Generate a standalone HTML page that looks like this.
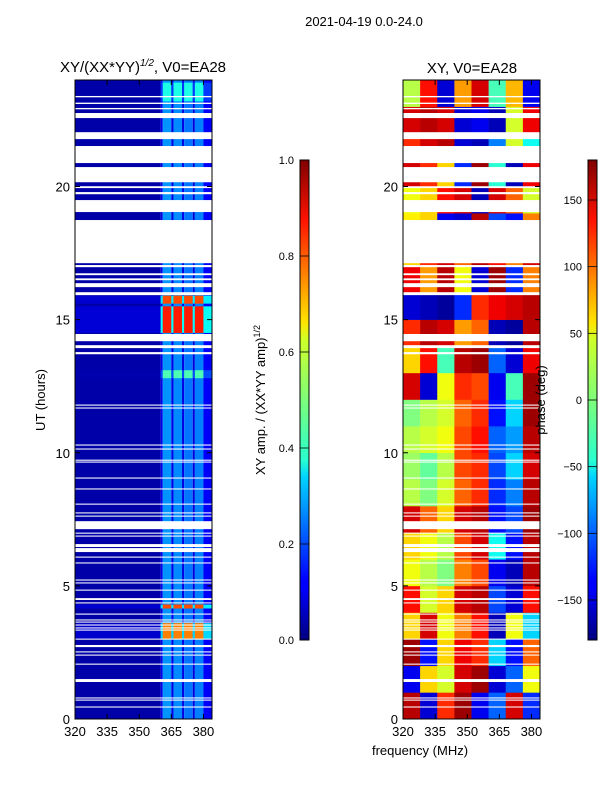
<!DOCTYPE html>
<html><head><meta charset="utf-8">
<style>
body{margin:0;background:#fff;}
svg{display:block;font-family:"Liberation Sans",sans-serif;}
</style></head>
<body>
<svg id="fig" width="600" height="800" viewBox="0 0 600 800" xmlns="http://www.w3.org/2000/svg">
<defs>
<linearGradient id="jetV" x1="0" y1="1" x2="0" y2="0">
<stop offset="0" stop-color="#00007f"/><stop offset="0.11" stop-color="#0000ff"/>
<stop offset="0.125" stop-color="#0000ff"/><stop offset="0.34" stop-color="#00d4ff"/>
<stop offset="0.375" stop-color="#29ffce"/><stop offset="0.5" stop-color="#7dff7a"/>
<stop offset="0.625" stop-color="#ceff29"/><stop offset="0.66" stop-color="#ffe600"/>
<stop offset="0.875" stop-color="#ff1300"/><stop offset="1" stop-color="#7f0000"/>
</linearGradient>
</defs>
<text x="364" y="26" font-size="13" text-anchor="middle">2021-04-19 0.0-24.0</text>
<g id="amp"></g>
<g id="phs"></g>
<g id="axes"></g>
</svg>
<script>
// ---- data ----
const ampEdges = [320,360,361,365,366,370,371,375,376,380,384];
const ampColVals = [0.04,0.1,0.27,0.1,0.26,0.1,0.24,0.09,0.25,0.12];
const hotStart = [14.5,15.6,4.15,3.0,12.8,23.2];
const hotEnd   = [15.5,15.9,4.3,3.6,13.1,23.9];
const hotVal   = [0.85,0.8,0.8,0.75,0.45,0.4];
const blankStart = [22.57,21.78,20.88,20.16,19.94,19.71,19.04,17.12,16.97,16.67,16.48,16.22,15.92,14.19,13.93,13.70,11.77,11.66,10.27,10.12,9.70,9.63,9.03,8.62,8.05,7.72,7.60,7.13,6.96,6.85,6.46,6.27,6.06,5.84,5.20,5.09,4.82,4.47,4.34,3.92,3.70,3.62,3.51,3.40,3.32,2.98,2.70,2.50,2.38,2.04,1.39,0.77,0.69,0.43,23.35,23.1,22.9];
const blankEnd   = [22.76,22.04,21.52,20.73,20.01,19.79,19.49,18.74,17.05,16.74,16.55,16.37,16.03,14.46,14.04,13.78,11.81,11.70,10.31,10.16,9.74,9.67,9.07,8.66,8.09,7.76,7.64,7.43,7.00,6.89,6.57,6.42,6.10,5.88,5.24,5.13,4.86,4.54,4.38,3.96,3.74,3.66,3.55,3.44,3.36,3.02,2.78,2.54,2.42,2.08,1.50,0.81,0.73,0.47,23.40,23.15,22.95];
const phaseEdges = [320,328,336,344,352,360,368,376,384];
const phaseRows = [
[160,-150,120,170,-140,-100,150,-120],
[-140,60,30,150,170,-150,-100,40],
[170,-130,60,140,120,-60,-130,100],
[60,150,40,90,130,-160,40,-60],
[130,30,60,150,160,-110,-150,130],
[40,20,0,90,110,-140,-160,160],
[60,40,20,110,150,-40,-130,160],
[150,100,60,150,160,-130,-110,170],
[20,0,30,100,120,-120,-90,160],
[10,-10,20,110,120,-110,-60,150],
[20,30,40,110,130,-100,-80,160],
[0,20,30,100,120,-130,-60,170],
[150,-150,40,120,110,-140,-20,170],
[60,130,-20,160,170,-100,-150,140],
[120,160,150,80,100,-160,-170,160],
[-150,-160,-170,-120,120,140,150,160],
[140,80,160,40,-150,170,-120,90],
[60,120,150,100,160,130,90,150],
[50,60,-140,-150,160,-110,-130,90],
[40,60,130,150,-160,150,100,30],
[150,120,60,-120,170,-30,-160,140],
[120,150,160,-150,-160,-90,30,-40],
[150,160,150,-150,-140,-160,30,140],
[20,130,-150,80,150,-20,70,-140]];
const xTicks = [320,335,350,365,380];
const yTicks = [0,5,10,15,20];
const ampTicks = [0.0,0.2,0.4,0.6,0.8,1.0];
const phaseTicks = [-150,-100,-50,0,50,100,150];

// ---- scales ----
const NS="http://www.w3.org/2000/svg";
const PT=80, PB=719;
const yS = h => PB - (h/24)*(PB-PT);
const xL = f => 75 + (f-320)/64*(212-75);
const xR = f => 403 + (f-320)/64*(540-403);
const cbY = t => 640 - t*480;
function jet(t){t=Math.max(0,Math.min(1,t));
 const c=v=>Math.round(255*Math.max(0,Math.min(1,v)));
 return `rgb(${c(1.5-Math.abs(4*t-3))},${c(1.5-Math.abs(4*t-2))},${c(1.5-Math.abs(4*t-1))})`;}
function el(tag,attrs,parent,txt){const e=document.createElementNS(NS,tag);for(const k in attrs)e.setAttribute(k,attrs[k]);if(txt!==undefined)e.textContent=txt;parent.appendChild(e);return e;}
const amp=document.getElementById('amp'), phs=document.getElementById('phs'), ax=document.getElementById('axes');

// amplitude cells
for(let i=0;i<ampColVals.length;i++){
 const r=el('rect',{x:xL(ampEdges[i]),y:PT,width:xL(ampEdges[i+1])-xL(ampEdges[i]),height:PB-PT,fill:jet(ampColVals[i])},amp);
 
 
}
for(let j=0;j<hotVal.length;j++){
 for(let i=0;i<ampColVals.length;i++){
  let v = ampColVals[i]>0.2 ? hotVal[j] : (ampEdges[i]<360 ? Math.max(ampColVals[i],hotVal[j]*0.1) : hotVal[j]*0.45);
  const r=el('rect',{x:xL(ampEdges[i]),y:yS(hotEnd[j]),width:xL(ampEdges[i+1])-xL(ampEdges[i]),height:yS(hotStart[j])-yS(hotEnd[j]),fill:jet(v)},amp);
  
  
 }
}
// phase cells
for(let r=0;r<phaseRows.length;r++){
 for(let c=0;c<phaseRows[r].length;c++){
  const rc=el('rect',{x:xR(phaseEdges[c]),y:yS(r+1),width:xR(phaseEdges[c+1])-xR(phaseEdges[c])+0.3,height:yS(r)-yS(r+1)+0.3,fill:jet((phaseRows[r][c]+180)/360)},phs);
  
  
 }
}
// flagged blanks
for(let k=0;k<blankStart.length;k++){
 const y=yS(blankEnd[k]), h=yS(blankStart[k])-y;
 const b1=el('rect',{x:75,y:y,width:137,height:h,fill:'#fff'},amp);
 
 
 const b2=el('rect',{x:403,y:y,width:137,height:h,fill:'#fff'},phs);
 
 
}
// axes frames + ticks
function panel(x0,x1,xs,name){
 const f=el('rect',{x:x0,y:PT,width:x1-x0,height:PB-PT,fill:'none',stroke:'#000','stroke-width':1},ax);
 
 
 xTicks.forEach(t=>{const x=xs(t);
  el('line',{x1:x,y1:PB,x2:x,y2:PB-5,stroke:'#000'},ax);
  el('line',{x1:x,y1:PT,x2:x,y2:PT+5,stroke:'#000'},ax);
  const tl=el('text',{x:x,y:PB+17,'font-size':13,'text-anchor':'middle'},ax,t);
  
  });
 yTicks.forEach(t=>{const y=yS(t);
  el('line',{x1:x0,y1:y,x2:x0+5,y2:y,stroke:'#000'},ax);
  el('line',{x1:x1,y1:y,x2:x1-5,y2:y,stroke:'#000'},ax);
  const tl=el('text',{x:x0-5,y:y+5,'font-size':13,'text-anchor':'end'},ax,t);
  
  });
}
panel(75,212,xL,'amp-panel');
panel(403,540,xR,'phase-panel');
// colorbars
function cbar(x,ticks,norm,fmt,name){
 const r=el('rect',{x:x,y:160,width:9,height:480,fill:'url(#jetV)',stroke:'#000','stroke-width':1},ax);
 
 
 ticks.forEach(t=>{const y=cbY(norm(t));
  el('line',{x1:x,y1:y,x2:x+9,y2:y,stroke:'#000','stroke-width':0.8},ax);
  const tl=el('text',{x:x-6,y:y+4,'font-size':11,'text-anchor':'end'},ax,fmt(t));
  
  });
}
cbar(300,ampTicks,t=>t,t=>t.toFixed(1),'amp-colorbar');
cbar(588,phaseTicks,t=>(t+180)/360,t=>t<0?'\u2212'+(-t):''+t,'phase-colorbar');
</script>
<div style="position:absolute;left:0;top:0;width:600px;height:800px;pointer-events:none">
<svg width="600" height="800" style="position:absolute;left:0;top:0">
<text x="143" y="72" font-size="15" text-anchor="middle" font-family="Liberation Sans,sans-serif">XY/(XX*YY)<tspan font-size="10" dy="-6" font-style="italic">1/2</tspan><tspan dy="6">, V0=EA28</tspan></text>
<text x="472" y="73" font-size="15" text-anchor="middle" font-family="Liberation Sans,sans-serif">XY, V0=EA28</text>
<text transform="translate(45,400) rotate(-90)" font-size="13" text-anchor="middle" font-family="Liberation Sans,sans-serif">UT (hours)</text>
<text transform="translate(265,400) rotate(-90)" font-size="13" text-anchor="middle" font-family="Liberation Sans,sans-serif">XY amp. / (XX*YY amp)<tspan font-size="9" dy="-5">1/2</tspan></text>
<text transform="translate(545,400) rotate(-90)" font-size="13" text-anchor="middle" font-family="Liberation Sans,sans-serif">phase (deg)</text>
<text x="420" y="755" font-size="13" text-anchor="middle" font-family="Liberation Sans,sans-serif">frequency (MHz)</text>
</svg></div>
</body></html>
